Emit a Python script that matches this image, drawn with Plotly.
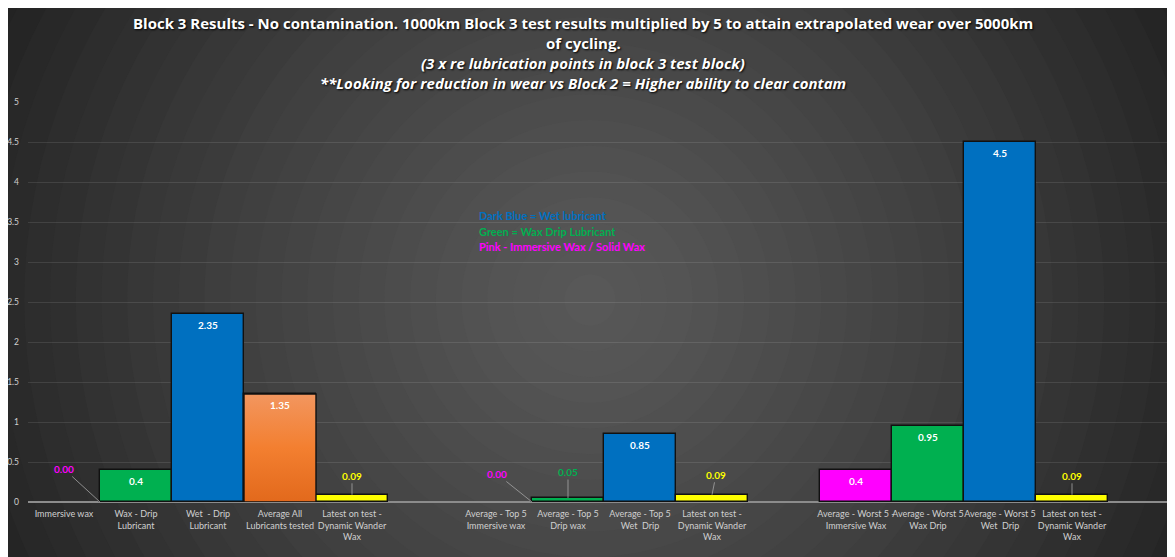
import plotly.graph_objects as go

# ---- data ----
categories = [
    "Immersive wax", "Wax - Drip<br>Lubricant", "Wet  - Drip<br>Lubricant",
    "Average All<br>Lubricants tested", "Latest on test -<br>Dynamic Wander<br>Wax", "",
    "Average - Top 5<br>Immersive wax", "Average - Top 5<br>Drip wax", "Average - Top 5<br>Wet  Drip",
    "Latest on test -<br>Dynamic Wander<br>Wax", "",
    "Average - Worst 5 -<br>Immersive Wax", "Average - Worst 5<br>Wax Drip", "Average - Worst 5<br>Wet  Drip",
    "Latest on test -<br>Dynamic Wander<br>Wax", "",
]
values = [0.0, 0.4, 2.35, 1.35, 0.09, None,
          0.0, 0.05, 0.85, 0.09, None,
          0.4, 0.95, 4.5, 0.09, None]
value_labels = ["0.00", "0.4", "2.35", "1.35", "0.09", "",
                "0.00", "0.05", "0.85", "0.09", "",
                "0.4", "0.95", "4.5", "0.09", ""]
bar_colors = ["#FF00FF", "#00B050", "#0070C0", "#EF7F35", "#FFFF00", "#000000",
              "#FF00FF", "#00B050", "#0070C0", "#FFFF00", "#000000",
              "#FF00FF", "#00B050", "#0070C0", "#FFFF00", "#000000"]
gradient_bar = 3   # "Average All Lubricants tested" has an orange gradient fill
orange_scale = [[0.0, "#E2691C"], [0.5, "#F37F30"], [1.0, "#F2965F"]]
y_ticks = [0, 0.5, 1, 1.5, 2, 2.5, 3, 3.5, 4, 4.5, 5]

title_lines = [
    ("Block 3 Results - No contamination. 1000km Block 3 test results multiplied by 5 to attain extrapolated wear over 5000km", "normal"),
    ("of cycling.", "normal"),
    ("(3 x re lubrication points in block 3 test block)", "italic"),
    ("**Looking for reduction in wear vs Block 2 = Higher ability to clear contam", "italic"),
]
legend_lines = [
    ("Dark Blue = Wet lubricant", "#0070C0"),
    ("Green = Wax Drip Lubricant", "#00B050"),
    ("Pink - Immersive Wax / Solid Wax", "#FF00FF"),
]

# ---- layout geometry (figure pixels; page body adds an 8px offset) ----
OFF = 8
W, H = 1175 - OFF, 557 - OFF
PLOT_L, PLOT_T, PLOT_B = 28, 102, 502          # reference-screen pixels
ML, MT, MB, MR = PLOT_L - OFF, PLOT_T - OFF, H - (PLOT_B - OFF), 0
PW, PH = W - ML - MR, H - MT - MB
SLOT = 72.0
BAR_W = 1.0


def px_x(px):  # reference-screen px -> paper
    return (px - OFF - ML) / PW


def px_y(py):
    return (PLOT_B - py) / PH


xs = list(range(len(categories)))
inside_threshold = 0.3
line_widths = [1.4 if (v is not None and v > 0) else 0 for v in values]

fig = go.Figure()
fig.add_trace(go.Bar(
    x=xs, y=values, width=BAR_W,
    marker=dict(color=bar_colors, line=dict(color="#111111", width=line_widths)),
    hoverinfo="skip", cliponaxis=False,
))

# gradient fill for the orange bar, built from the same data values
gx, gv = xs[gradient_bar], values[gradient_bar]
fig.add_trace(go.Scatter(
    x=[gx - BAR_W / 2, gx + BAR_W / 2, gx + BAR_W / 2, gx - BAR_W / 2, gx - BAR_W / 2],
    y=[0, 0, gv, gv, 0],
    mode="lines", fill="toself",
    fillgradient=dict(type="vertical", colorscale=orange_scale, start=0, stop=gv),
    line=dict(color="#111111", width=1.4),
    hoverinfo="skip", showlegend=False,
))

# ---- background radial gradient (decoration) ----
shapes = []
cx, cy = 590, 300
R = 720
N = 28
c_out = (0x1c, 0x1c, 0x1c)
c_in = (0x58, 0x58, 0x58)
for i in range(N, 0, -1):
    r = R * i / N
    t = ((i - 0.5) / N) ** 1.25
    col = tuple(int(round(c_in[k] + (c_out[k] - c_in[k]) * t)) for k in range(3))
    shapes.append(dict(type="circle", xref="paper", yref="paper",
                       x0=px_x(cx - r), x1=px_x(cx + r), y0=px_y(cy + r), y1=px_y(cy - r),
                       fillcolor="rgb(%d,%d,%d)" % col, line=dict(width=0), layer="below"))

annotations = []
title_y = [23, 43, 63, 83]
for (txt, style), ty in zip(title_lines, title_y):
    annotations.append(dict(
        text=txt, xref="paper", yref="paper", x=px_x(583), y=px_y(ty),
        xanchor="center", yanchor="middle", showarrow=False,
        font=dict(family="Open Sans", size=15, color="white", weight="bold", style=style,
                  shadow="1px 1px 2px #000000"),
    ))
leg_y = [215, 231, 246]
for (txt, col), ly in zip(legend_lines, leg_y):
    annotations.append(dict(
        text=txt, xref="paper", yref="paper", x=px_x(477), y=px_y(ly),
        xanchor="left", yanchor="middle", showarrow=False,
        font=dict(family="Lato", size=11, color=col, weight="bold"),
    ))

# value labels inside the taller bars
for idx, (v, lab) in enumerate(zip(values, value_labels)):
    if v is not None and v >= inside_threshold:
        annotations.append(dict(
            x=xs[idx], y=v, xref="x", yref="y", text=lab, showarrow=False,
            yanchor="middle", yshift=-11,
            font=dict(family="Lato", size=10, color="white", weight="bold"),
        ))

# outside labels with leader lines for small values
callouts = {0: (0.5, -36, -33), 4: (0.0, 0, -19), 6: (0.5, -35, -28), 7: (0.0, 0, -26),
            9: (0.0, 4, -20), 14: (0.0, 0, -19)}
for idx, (dx, ax, ay) in callouts.items():
    annotations.append(dict(
        x=xs[idx] + dx, y=values[idx], xref="x", yref="y",
        text=value_labels[idx], showarrow=True, arrowhead=0, arrowwidth=0.8,
        arrowcolor="#a6a6a6", ax=ax, ay=ay, standoff=0,
        font=dict(family="Lato", size=10, color=bar_colors[idx], weight="bold"),
    ))

fig.update_layout(
    width=W, height=H,
    margin=dict(l=ML, r=MR, t=MT, b=MB),
    paper_bgcolor="#1c1c1c", plot_bgcolor="rgba(0,0,0,0)",
    showlegend=False, bargap=0,
    shapes=shapes, annotations=annotations,
    font=dict(family="Lato", color="#d0d0d0"),
    xaxis=dict(
        range=[-0.5, -0.5 + PW / SLOT], tickmode="array", tickvals=xs, ticktext=categories,
        tickangle=0, showgrid=False, zeroline=False, showline=False, ticks="",
        ticklabelstandoff=5,
        tickfont=dict(family="Lato", size=9, color="#d0d0d0"), fixedrange=True,
    ),
    yaxis=dict(
        range=[0, 5], tickmode="array", tickvals=y_ticks, ticktext=[("%g" % v) for v in y_ticks],
        showgrid=True, gridcolor="rgba(255,255,255,0.10)", gridwidth=1,
        zeroline=True, zerolinecolor="#8c8c8c", zerolinewidth=2,
        showline=False, ticks="", ticklabelstandoff=8,
        tickfont=dict(family="Lato", size=8.5, color="#d0d0d0"), fixedrange=True,
    ),
)

fig.write_html("out.html")
